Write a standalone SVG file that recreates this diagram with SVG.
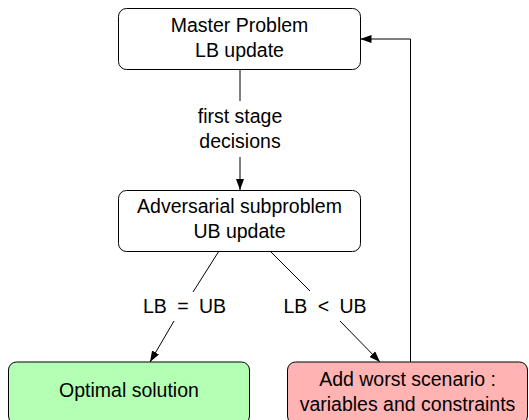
<svg xmlns="http://www.w3.org/2000/svg" width="529" height="420" viewBox="0 0 529 420">
<defs>
<style>
.box{stroke:#000;stroke-width:1}
.w{fill:#fff}
.g{fill:#b3ffb3}
.r{fill:#ffb3b3}
text{font-family:"Liberation Sans",Arial,sans-serif;font-size:19.5px;fill:#000;text-anchor:middle}
.m{word-spacing:5px}
.c{fill:none;stroke:#000;stroke-width:1}
</style>
<marker id="ah" viewBox="0 0 11 8" refX="11" refY="4" markerWidth="11" markerHeight="8" orient="auto" markerUnits="userSpaceOnUse">
<path d="M0,0 L11,4 L0,8 z" fill="#000"/>
</marker>
</defs>
<rect width="529" height="420" fill="#fff"/>
<g id="connectors">
<line class="c" x1="240" y1="69" x2="240" y2="101"/>
<line class="c" x1="240" y1="157" x2="240" y2="190" marker-end="url(#ah)"/>
<line class="c" x1="219" y1="251" x2="193" y2="292"/>
<line class="c" x1="174" y1="321" x2="150" y2="362" marker-end="url(#ah)"/>
<line class="c" x1="270" y1="251" x2="310" y2="291"/>
<line class="c" x1="340" y1="321" x2="380" y2="362" marker-end="url(#ah)"/>
<path class="c" d="M410.5,362 V39 H360.5" marker-end="url(#ah)"/>
<text x="240" y="123">first stage</text>
<text x="240" y="148">decisions</text>
<text class="m" x="184.5" y="313">LB = UB</text>
<text class="m" x="325" y="313">LB &lt; UB</text>
</g>
<g id="master">
<rect class="box w" x="118.5" y="8.5" width="242" height="61" rx="8"/>
<text x="239.5" y="32">Master Problem</text>
<text x="239.5" y="57">LB update</text>
</g>
<g id="adversarial">
<rect class="box w" x="118.5" y="190.5" width="242" height="61" rx="8"/>
<text x="239.5" y="213">Adversarial subproblem</text>
<text x="239.5" y="238">UB update</text>
</g>
<g id="optimal">
<rect class="box g" x="8.5" y="362" width="241" height="62" rx="8"/>
<text x="129" y="397">Optimal solution</text>
</g>
<g id="addworst">
<rect class="box r" x="287.5" y="362" width="240" height="62" rx="8"/>
<text x="407.5" y="386">Add worst scenario :</text>
<text x="407.5" y="411">variables and constraints</text>
</g>
</svg>
